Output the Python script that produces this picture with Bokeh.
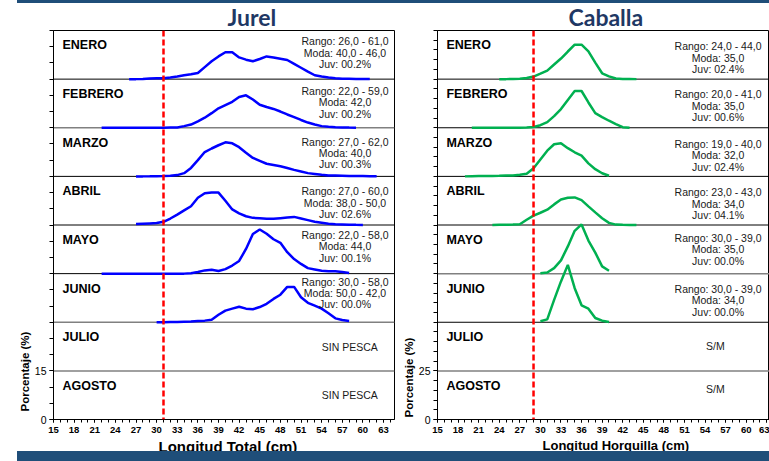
from bokeh.plotting import figure
from bokeh.models import (ColumnDataSource, Span, Title, FixedTicker,
                          SingleIntervalTicker, Div, Range1d)
from bokeh.layouts import row, column
from bokeh.core.properties import value
from bokeh.embed import file_html
from bokeh.resources import INLINE

MONTHS = ["ENERO", "FEBRERO", "MARZO", "ABRIL", "MAYO", "JUNIO", "JULIO", "AGOSTO"]

# ---------------- Jurel (longitud total, cm ; %)
JUREL_ENE_X = list(range(26, 62))
JUREL_ENE = [0, 0, 0.05, 0.2, 0.3, 0.3, 0.5, 0.8, 1.2, 1.5, 1.9, 3.7, 5.5, 7.0, 8.3, 8.3,
             6.7, 6.0, 5.5, 6.2, 7.0, 6.7, 6.3, 5.9, 4.7, 3.5, 2.3, 1.2, 0.8, 0.5, 0.3,
             0.15, 0.1, 0.05, 0.03, 0.02]
JUREL_FEB_X = list(range(22, 60))
JUREL_FEB = [0, 0, 0, 0, 0, 0, 0, 0, 0, 0, 0.05, 0.1, 0.5, 1.0, 2.0, 3.1, 4.5, 6.0, 7.0,
             8.0, 9.5, 10.0, 8.7, 7.1, 6.4, 5.8, 5.0, 4.1, 3.3, 2.4, 1.6, 1.0, 0.5, 0.3,
             0.15, 0.1, 0.05, 0.02]
JUREL_MAR_X = list(range(27, 63))
JUREL_MAR = [0, 0, 0.02, 0.05, 0.1, 0.2, 0.4, 1.0, 2.6, 5.0, 7.5, 8.6, 9.6, 10.5, 10.2,
             9.0, 7.3, 5.7, 4.8, 3.9, 3.5, 3.1, 2.6, 2.0, 1.5, 1.0, 0.75, 0.5, 0.3, 0.25,
             0.2, 0.15, 0.1, 0.08, 0.05, 0.03]
JUREL_ABR_X = list(range(27, 61))
JUREL_ABR = [0.3, 0.4, 0.5, 0.6, 1.0, 2.0, 3.2, 4.5, 5.8, 8.4, 9.8, 10.0, 10.0, 7.5, 4.8,
             3.6, 2.7, 2.2, 2.1, 1.9, 1.9, 2.1, 2.3, 2.5, 2.0, 1.5, 1.0, 0.7, 0.4, 0.2,
             0.15, 0.1, 0.05, 0.02]
JUREL_MAY_X = list(range(22, 59))
JUREL_MAY = [0, 0, 0, 0, 0, 0, 0, 0, 0, 0, 0, 0, 0, 0.1, 0.5, 1.0, 1.2, 0.8, 1.4, 2.5,
             3.9, 7.6, 12.2, 13.6, 12.3, 10.6, 9.5, 6.6, 4.5, 3.0, 1.7, 1.3, 0.9, 0.7,
             0.7, 0.5, 0.2]
JUREL_JUN_X = list(range(30, 59))
JUREL_JUN = [0, 0, 0.05, 0.1, 0.15, 0.2, 0.4, 0.5, 0.8, 2.3, 3.6, 4.2, 4.8, 4.2, 4.0, 4.7,
             5.7, 7.2, 8.5, 10.9, 10.9, 7.7, 6.0, 5.1, 4.2, 2.8, 1.2, 0.7, 0.4]

JUREL_STATS = [
    ["Rango: 26,0 - 61,0", "Moda: 40,0 - 46,0", "Juv: 00.2%"],
    ["Rango: 22,0 - 59,0", "Moda: 42,0", "Juv: 00.2%"],
    ["Rango: 27,0 - 62,0", "Moda: 40,0", "Juv: 00.3%"],
    ["Rango: 27,0 - 60,0", "Moda: 38,0 - 50,0", "Juv: 02.6%"],
    ["Rango: 22,0 - 58,0", "Moda: 44,0", "Juv: 00.1%"],
    ["Rango: 30,0 - 58,0", "Moda: 50,0 - 42,0", "Juv: 00.0%"],
]
JUREL_EMPTY = ["SIN PESCA", "SIN PESCA"]
JUREL_TALLA_MIN = 31
JUREL_ROW = 15

# ---------------- Caballa (longitud horquilla, cm ; %)
CABALLA_ENE_X = list(range(24, 45))
CABALLA_ENE = [0, 0, 0.05, 0.2, 0.6, 1.3, 2.8, 4.4, 7.5, 10.6, 14.2, 17.7, 17.7, 14.3,
               8.5, 3.0, 1.4, 0.3, 0.1, 0.05, 0]
CABALLA_FEB_X = list(range(20, 44))
CABALLA_FEB = [0, 0, 0, 0, 0, 0, 0, 0, 0.1, 0.4, 1.3, 2.9, 6.0, 9.6, 14.3, 18.9, 18.9,
               13.0, 7.5, 5.5, 3.6, 1.9, 0.3, 0.05]
CABALLA_MAR_X = list(range(19, 41))
CABALLA_MAR = [0, 0.1, 0.15, 0.2, 0.25, 0.3, 0.4, 0.5, 0.8, 1.4, 4.2, 8.7, 13.2, 16.5,
               17.0, 14.5, 12.4, 10.7, 6.7, 3.7, 1.6, 0.3]
CABALLA_ABR_X = list(range(23, 45))
CABALLA_ABR = [0, 0.1, 0.15, 0.2, 0.4, 2.7, 4.8, 6.3, 7.9, 10.6, 13.1, 14.0, 14.2, 12.8,
               9.6, 6.5, 3.5, 1.1, 0.2, 0.1, 0.05, 0]
CABALLA_MAY_X = list(range(30, 41))
CABALLA_MAY = [0.2, 0.6, 2.8, 6.8, 14.0, 22.0, 25.3, 17.0, 10.8, 3.7, 1.5]
CABALLA_JUN_X = list(range(30, 41))
CABALLA_JUN = [0.5, 1.5, 11.5, 21.0, 29.5, 17.5, 8.7, 7.0, 2.2, 0.8, 0.1]

CABALLA_STATS = [
    ["Rango: 24,0 - 44,0", "Moda: 35,0", "Juv: 02.4%"],
    ["Rango: 20,0 - 41,0", "Moda: 35,0", "Juv: 00.6%"],
    ["Rango: 19,0 - 40,0", "Moda: 32,0", "Juv: 02.4%"],
    ["Rango: 23,0 - 43,0", "Moda: 34,0", "Juv: 04.1%"],
    ["Rango: 30,0 - 39,0", "Moda: 35,0", "Juv: 00.0%"],
    ["Rango: 30,0 - 39,0", "Moda: 34,0", "Juv: 00.0%"],
]
CABALLA_EMPTY = ["S/M", "S/M"]
CABALLA_TALLA_MIN = 29
CABALLA_ROW = 25

FONT = "Liberation Sans"
TITLE_FONT = "Lato"
NAVY = "#1F3864"
BAR = "#1F4E79"
FIG_H = 461


def build(title, title_off, width, bl, br, bb, x_end, row_step, series, color, stats,
          stats_x, stats_off, empty, empty_off, talla, div_colors, xlabel, xlabel_size,
          xlabel_off, ylabel_off):
    ymax = 8 * row_step
    frame_h = FIG_H - 29 - bb
    pxu = frame_h / ymax  # pixels per % unit
    p = figure(width=width, height=FIG_H, x_range=Range1d(15, x_end),
               y_range=Range1d(0, ymax), output_backend="svg", toolbar_location=None,
               min_border_left=bl, min_border_right=br, min_border_top=29,
               min_border_bottom=bb)
    p.title.text = title
    p.title.align = "left"
    p.title.offset = title_off
    p.title.standoff = 0
    p.title.text_font = TITLE_FONT
    p.title.text_font_style = "bold"
    p.title.text_font_size = "23px"
    p.title.text_color = NAVY

    p.grid.visible = False
    p.outline_line_color = "black"
    p.outline_line_width = 1
    p.background_fill_color = "white"
    p.border_fill_color = "white"

    xa = p.xaxis[0]
    xa.ticker = SingleIntervalTicker(interval=3, num_minor_ticks=3)
    xa.major_tick_out = 3
    xa.major_tick_in = 0
    xa.minor_tick_out = 3
    xa.minor_tick_in = 0
    xa.axis_line_color = "black"
    xa.major_label_text_font = FONT
    xa.major_label_text_font_style = "bold"
    xa.major_label_text_font_size = "9.5px"
    xa.major_label_text_color = "black"
    xa.major_label_standoff = 4

    ya = p.yaxis[0]
    ya.ticker = FixedTicker(ticks=[0, row_step],
                            minor_ticks=list(range(0, ymax + 1, 5)))
    ya.major_tick_out = 4
    ya.major_tick_in = 0
    ya.minor_tick_out = 4
    ya.minor_tick_in = 0
    ya.axis_line_color = "black"
    ya.major_label_text_font = FONT
    ya.major_label_text_font_size = "10.5px"
    ya.major_label_text_color = "black"
    ya.major_label_standoff = 3

    # axis titles placed as titles so that they can be positioned like the reference
    p.add_layout(Title(text=xlabel, align="left", offset=xlabel_off, standoff=0,
                       text_font=FONT, text_font_style="bold",
                       text_font_size=xlabel_size, text_color="black"), "below")
    p.add_layout(Title(text="Porcentaje (%)", align="left", offset=ylabel_off,
                       standoff=2, text_font=FONT, text_font_style="bold",
                       text_font_size="11.5px", text_color="black"), "left")

    # row dividers (under the curves)
    for k, c in enumerate(div_colors, start=1):
        p.add_layout(Span(location=k * row_step, dimension="width", line_color=c,
                          line_width=1.5 if c != "black" else 1, level="underlay"))

    # curves
    for i, (xs, ys) in enumerate(series):
        base = (7 - i) * row_step
        p.line(xs, [base + v for v in ys], line_color=color, line_width=2.5)

    # month labels
    msrc = ColumnDataSource(dict(
        x=[16.3] * 8,
        y=[(8 - i) * row_step - 15 / pxu for i in range(8)],
        t=MONTHS))
    p.text("x", "y", text="t", source=msrc, text_font=value(FONT),
           text_font_style="bold", text_font_size="12.5px", text_color="black",
           text_align="left", text_baseline="middle")

    # statistics
    sx, sy, st = [], [], []
    for i, lines in enumerate(stats):
        for j, s in enumerate(lines):
            sx.append(stats_x)
            sy.append((8 - i) * row_step - (stats_off[i] + 11.5 * j) / pxu)
            st.append(s)
    for i, s in enumerate(empty):
        sx.append(empty_off[i][0])
        sy.append((1 - i) * row_step + row_step / 2 + empty_off[i][1] / pxu)
        st.append(s)
    ssrc = ColumnDataSource(dict(x=sx, y=sy, t=st))
    p.text("x", "y", text="t", source=ssrc, text_font=value(FONT),
           text_font_size="10.5px", text_color="#1a1a1a", text_align="center",
           text_baseline="middle")

    # minimum legal size
    p.add_layout(Span(location=talla, dimension="height", line_color="#FF0000",
                      line_width=2.5, line_dash="6 3"))
    return p


jurel_series = [(JUREL_ENE_X, JUREL_ENE), (JUREL_FEB_X, JUREL_FEB),
                (JUREL_MAR_X, JUREL_MAR), (JUREL_ABR_X, JUREL_ABR),
                (JUREL_MAY_X, JUREL_MAY), (JUREL_JUN_X, JUREL_JUN)]
caballa_series = [(CABALLA_ENE_X, CABALLA_ENE), (CABALLA_FEB_X, CABALLA_FEB),
                  (CABALLA_MAR_X, CABALLA_MAR), (CABALLA_ABR_X, CABALLA_ABR),
                  (CABALLA_MAY_X, CABALLA_MAY), (CABALLA_JUN_X, CABALLA_JUN)]

p1 = build("Jurel", 174, 397, 53, 3, 40, 64.6, JUREL_ROW, jurel_series, "#0000FF",
           JUREL_STATS, 57.4, [11, 12, 14, 15, 10, 8], JUREL_EMPTY,
           [(58.1, 0), (58.1, 0)], JUREL_TALLA_MIN,
           ["#808080", "#808080", "black", "black", "black", "#808080", "black"],
           "Longitud Total (cm)", "15px", 105, 8)
p2 = build("Caballa", 131, 372, 40, 0, 42, 63.4, CABALLA_ROW, caballa_series, "#00B050",
           CABALLA_STATS, 55.9, [16, 15, 16, 16, 13, 15], CABALLA_EMPTY,
           [(55.5, 1), (55.5, 6)], CABALLA_TALLA_MIN,
           ["#808080", "black", "#808080", "black", "black", "black", "black"],
           "Longitud Horquilla (cm)", "13px", 105, 2)

top_bar = Div(text="", width=752, height=3, margin=(0, 0, -3, 17),
              styles={"background-color": BAR, "position": "relative", "z-index": "10"})
bottom_bar = Div(text="", width=752, height=10, margin=(-10, 0, 0, 17),
                 styles={"background-color": BAR, "position": "relative",
                         "z-index": "10"})

layout = column(top_bar, row(p1, p2), bottom_bar)

with open("out.html", "w") as f:
    f.write(file_html(layout, INLINE))
